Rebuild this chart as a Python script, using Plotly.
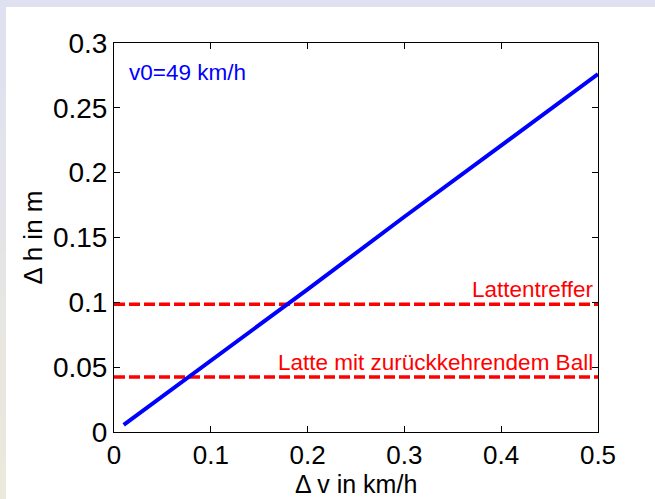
import plotly.graph_objects as go

# data
dv = [0.01, 0.1, 0.2, 0.3, 0.4, 0.5]
dh = [0.0055, 0.055, 0.110, 0.166, 0.221, 0.276]
ref_x = [0.0, 0.5]
latten_h = 0.0985
zurueck_h = 0.0425
x_ticks = [0, 0.1, 0.2, 0.3, 0.4, 0.5]
y_ticks = [0, 0.05, 0.1, 0.15, 0.2, 0.25, 0.3]

W, H = 655, 499
L, R, T, B = 114, 598, 43, 432

def px(xp):
    return (xp - L) / (R - L)

def py(yp):
    return (B - yp) / (B - T)

fig = go.Figure()
fig.add_trace(go.Scatter(x=ref_x, y=[latten_h, latten_h], mode="lines",
                         line=dict(color="#ff0000", width=3.5, dash="11px,4px"),
                         showlegend=False, hoverinfo="skip"))
fig.add_trace(go.Scatter(x=ref_x, y=[zurueck_h, zurueck_h], mode="lines",
                         line=dict(color="#ff0000", width=3.5, dash="11px,4px"),
                         showlegend=False, hoverinfo="skip"))
fig.add_trace(go.Scatter(x=dv, y=dh, mode="lines",
                         line=dict(color="#0000ff", width=4),
                         showlegend=False, hoverinfo="skip"))

# slide-like background frame
shapes = [
    dict(type="rect", xref="paper", yref="paper", x0=px(0), x1=px(W), y0=py(H), y1=py(0),
         fillcolor="#dfe1f1", line_width=0, layer="below"),
]
n = 12
for i in range(n):
    t = i / (n - 1)
    r = int(0xdf + (0xeb - 0xdf) * t)
    g = int(0xe1 + (0xe9 - 0xe1) * t)
    b = int(0xf1 + (0xdc - 0xf1) * t)
    y0p = 7 + (H - 7) * i / n
    y1p = 7 + (H - 7) * (i + 1) / n
    shapes.append(dict(type="rect", xref="paper", yref="paper", x0=px(0), x1=px(6),
                       y0=py(y1p), y1=py(y0p), fillcolor=f"rgb({r},{g},{b})",
                       line_width=0, layer="below"))
shapes.append(dict(type="rect", xref="paper", yref="paper", x0=px(6), x1=px(W),
                   y0=py(H), y1=py(7), fillcolor="white", line_width=0, layer="below"))

font_family = "Liberation Sans, Arial, sans-serif"

fig.update_layout(
    width=W, height=H,
    margin=dict(l=L, r=W - R, t=T, b=H - B, pad=0),
    paper_bgcolor="white", plot_bgcolor="white",
    shapes=shapes,
    font=dict(family=font_family, color="black"),
    xaxis=dict(range=[0, 0.5], tickvals=x_ticks, ticks="inside", ticklen=6,
               tickcolor="black", showline=True, linecolor="black", linewidth=1,
               mirror="ticks", showgrid=False, zeroline=False,
               tickfont=dict(size=26, family=font_family),
               automargin=False),
    yaxis=dict(range=[0, 0.3], tickvals=y_ticks, ticks="inside", ticklen=6,
               tickcolor="black", showline=True, linecolor="black", linewidth=1,
               mirror="ticks", showgrid=False, zeroline=False,
               tickfont=dict(size=28, family=font_family),
               title=dict(text="Δ h in m", font=dict(size=26, family=font_family), standoff=2),
               automargin=False),
    annotations=[
        dict(x=0.5, y=py(484), xref="paper", yref="paper", text="Δ v in km/h", showarrow=False,
             xanchor="center", yanchor="middle", font=dict(color="black", size=25, family=font_family)),
        dict(x=0.0134, y=0.277, xref="x", yref="y", text="v0=49 km/h", showarrow=False,
             xanchor="left", yanchor="middle", font=dict(color="#0000ff", size=22.5, family=font_family)),
        dict(x=0.497, y=latten_h, xref="x", yref="y", text="Lattentreffer", showarrow=False,
             xanchor="right", yanchor="bottom", font=dict(color="#ff0000", size=22.5, family=font_family)),
        dict(x=0.497, y=zurueck_h, xref="x", yref="y", text="Latte mit zurückkehrendem Ball",
             showarrow=False, xanchor="right", yanchor="bottom",
             font=dict(color="#ff0000", size=22.5, family=font_family)),
    ],
)

fig.write_html("out.html", config={"displayModeBar": False},
               post_script="document.body.style.margin='0';document.body.style.overflow='hidden';")
